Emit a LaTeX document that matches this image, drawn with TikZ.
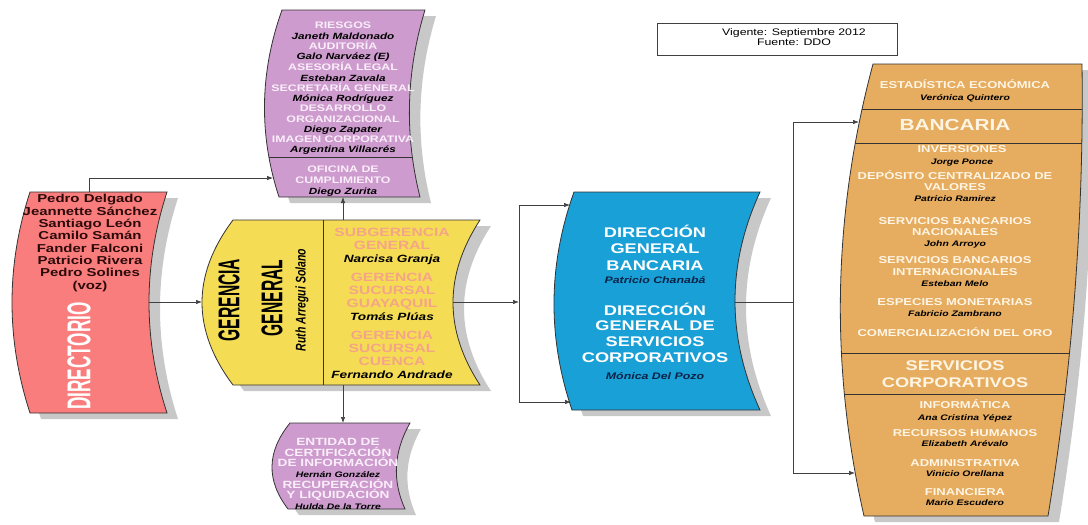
\documentclass[tikz,border=0pt]{standalone}
\usepackage{fontspec}
\setmainfont{Liberation Sans}[FakeStretch=1.3]
\newfontfamily\narrowfont{Liberation Sans}[FakeStretch=0.52]
\newfontfamily\semifont{Liberation Sans}[FakeStretch=0.75]
\usetikzlibrary{arrows.meta}

\definecolor{redbox}{RGB}{250,125,125}
\definecolor{purplebox}{RGB}{205,155,205}
\definecolor{yellowbox}{RGB}{245,220,85}
\definecolor{bluebox}{RGB}{25,160,215}
\definecolor{orangebox}{RGB}{230,172,95}
\definecolor{shadowgray}{RGB}{200,200,200}
\definecolor{salmontext}{RGB}{245,165,135}
\definecolor{navytext}{RGB}{10,35,70}
\definecolor{creamtext}{RGB}{255,245,228}
\definecolor{lilactext}{RGB}{250,238,250}
\definecolor{dirtext}{RGB}{45,10,10}

% bent box: #1,#2 top left/right x, #3 top y, #4,#5 bottom left/right x, #6 bottom y, #7,#8 bulge of left/right side
\newcommand{\bentbox}[8]{(#1,#3) -- (#2,#3)
  .. controls ({#2+((#5)-(#2))/3-1.333*(#8)},{#3+((#6)-(#3))/3}) and ({#2+2*((#5)-(#2))/3-1.333*(#8)},{#3+2*((#6)-(#3))/3}) .. (#5,#6)
  -- (#4,#6)
  .. controls ({#1+2*((#4)-(#1))/3-1.333*(#7)},{#3+2*((#6)-(#3))/3}) and ({#1+((#4)-(#1))/3-1.333*(#7)},{#3+((#6)-(#3))/3}) .. (#1,#3) -- cycle}
% name line: [colour]{size}{text}
\newcommand{\who}[3][black]{{\fontsize{#2}{#2}\selectfont\itshape\color{#1}#3}}

\begin{document}
\begin{tikzpicture}[x=1pt,y=-1pt,
  box/.style={draw=black!80,line width=0.8pt},
  dropshadow/.style={fill=shadowgray,shift={(11,6)}},
  txt/.style={align=center,inner sep=0pt},
  conn/.style={draw=black!75,line width=0.7pt,-{Latex[length=6pt,width=4.5pt]}},
  link/.style={draw=black!75,line width=0.7pt}]
\useasboundingbox (0,0) rectangle (1088,525);

% directorio
\fill[dropshadow] \bentbox{30}{167}{192}{30}{167}{413}{18}{18};
\draw[box,fill=redbox] \bentbox{30}{167}{192}{30}{167}{413}{18}{18};
\node[txt,font=\fontsize{11.5}{12.3}\selectfont\bfseries,text=dirtext] (dirNames) at (90,243)
  {Pedro Delgado\\Jeannette Sánchez\\Santiago León\\Camilo Samán\\Fander Falconi\\Patricio Rivera\\Pedro Solines\\(voz)};
\node[rotate=90,inner sep=0pt,font=\narrowfont\fontsize{33}{33}\selectfont\bfseries,text=white] (dirTitle) at (79,356) {DIRECTORIO};

% riesgos ... oficina de cumplimiento
\fill[dropshadow] \bentbox{282}{425}{10}{279}{420}{197}{16}{13};
\draw[box,fill=purplebox] \bentbox{282}{425}{10}{279}{420}{197}{16}{13};
\begin{scope}
\clip \bentbox{282}{425}{10}{279}{420}{197}{16}{13};
\draw[box] (240,157) -- (460,157);
\end{scope}
\node[txt,font=\fontsize{9.5}{10.25}\selectfont\bfseries,text=lilactext] (riesgosTxt) at (343,88.5)
  {RIESGOS\\\who{9}{Janeth Maldonado}\\AUDITORÍA\\\who{9}{Galo Narváez (E)}\\ASESORÍA LEGAL\\\who{9}{Esteban Zavala}\\SECRETARÍA GENERAL\\\who{9}{Mónica Rodríguez}\\DESARROLLO\\ORGANIZACIONAL\\\who{9}{Diego Zapater}\\IMAGEN CORPORATIVA\\\who{9}{Argentina Villacrés}};
\node[txt,font=\fontsize{9.5}{11}\selectfont\bfseries,text=lilactext] (oficinaTxt) at (343,181)
  {OFICINA DE\\CUMPLIMIENTO\\\who{9}{Diego Zurita}};

% gerencia general
\fill[dropshadow] \bentbox{233}{480}{220}{233}{480}{385}{31}{27};
\draw[box,fill=yellowbox] \bentbox{233}{480}{220}{233}{480}{385}{31}{27};
\draw[box] (323,220) -- (323,385);
\node[rotate=90,inner sep=0pt,font=\narrowfont\fontsize{30}{30}\selectfont\bfseries] (genTitleA) at (229,300) {GERENCIA};
\node[rotate=90,inner sep=0pt,font=\narrowfont\fontsize{30}{30}\selectfont\bfseries] (genTitleB) at (272,298) {GENERAL};
\node[rotate=90,inner sep=0pt,font=\semifont\fontsize{14}{14}\selectfont\bfseries\itshape] (genHead) at (302,300) {Ruth Arregui Solano};
\node[txt,font=\fontsize{12}{13}\selectfont\bfseries,text=salmontext] (genUnits) at (392,303)
  {SUBGERENCIA\\GENERAL\\\who{10.5}{Narcisa Granja}\\[6pt]GERENCIA\\SUCURSAL\\GUAYAQUIL\\\who{10.5}{Tomás Plúas}\\[6pt]GERENCIA\\SUCURSAL\\CUENCA\\\who{10.5}{Fernando Andrade}};

% entidad de certificacion
\fill[dropshadow] \bentbox{290}{410}{423}{288}{405}{509}{17}{11};
\draw[box,fill=purplebox] \bentbox{290}{410}{423}{288}{405}{509}{17}{11};
\node[txt,font=\fontsize{10.5}{10.7}\selectfont\bfseries,text=lilactext] (entidadTxt) at (338,474)
  {ENTIDAD DE\\CERTIFICACIÓN\\DE INFORMACIÓN\\\who{8}{Hernán González}\\RECUPERACIÓN\\Y LIQUIDACIÓN\\\who{8}{Hulda De la Torre}};

% direcciones generales
\fill[dropshadow] \bentbox{574}{760}{192}{572}{760}{410}{19}{25};
\draw[box,fill=bluebox] \bentbox{574}{760}{192}{572}{760}{410}{19}{25};
\node[txt,font=\fontsize{14}{16.5}\selectfont\bfseries,text=white] (dgBancaria) at (655,254)
  {DIRECCIÓN\\GENERAL\\BANCARIA\\[-3.5pt]\who[navytext]{9.5}{Patricio Chanabá}};
\node[txt,font=\fontsize{14}{15.7}\selectfont\bfseries,text=white] (dgServicios) at (655,341)
  {DIRECCIÓN\\GENERAL DE\\SERVICIOS\\CORPORATIVOS\\[1pt]\who[navytext]{9.5}{Mónica Del Pozo}};

% unidades bancarias y de servicios
\fill[dropshadow] \bentbox{873}{1082}{64}{864}{1048}{516}{28}{-10};
\draw[box,fill=orangebox] \bentbox{873}{1082}{64}{864}{1048}{516}{28}{-10};
\begin{scope}
\clip \bentbox{873}{1082}{64}{864}{1048}{516}{28}{-10};
\draw[box] (800,109) -- (1100,109);
\draw[box] (800,143) -- (1100,143);
\draw[box] (800,353) -- (1100,353);
\draw[box] (800,394) -- (1100,394);
\end{scope}
\node[txt,font=\fontsize{10}{12}\selectfont\bfseries,text=creamtext] (estadistica) at (965,91) {ESTADÍSTICA ECONÓMICA\\\who{8}{Verónica Quintero}};
\node[txt,font=\fontsize{16}{16}\selectfont\bfseries,text=creamtext] (bancaria) at (955,125) {BANCARIA};
\node[txt,font=\fontsize{10}{12}\selectfont\bfseries,text=creamtext] (inversiones) at (962,156) {INVERSIONES\\\who{8}{Jorge Ponce}};
\node[txt,font=\fontsize{10}{11}\selectfont\bfseries,text=creamtext] (deposito) at (955,186) {DEPÓSITO CENTRALIZADO DE\\VALORES\\\who{8}{Patricio Ramirez}};
\node[txt,font=\fontsize{10}{11}\selectfont\bfseries,text=creamtext] (servNac) at (955,233) {SERVICIOS BANCARIOS\\NACIONALES\\\who{8}{John Arroyo}};
\node[txt,font=\fontsize{10}{11.5}\selectfont\bfseries,text=creamtext] (servInt) at (955,272) {SERVICIOS BANCARIOS\\INTERNACIONALES\\\who{8}{Esteban Melo}};
\node[txt,font=\fontsize{10}{11}\selectfont\bfseries,text=creamtext] (especies) at (955,308) {ESPECIES MONETARIAS\\\who{8}{Fabricio Zambrano}};
\node[txt,font=\fontsize{10}{11}\selectfont\bfseries,text=creamtext] (comercial) at (955,332) {COMERCIALIZACIÓN DEL ORO};
\node[txt,font=\fontsize{14}{17}\selectfont\bfseries,text=creamtext] (servCorp) at (955,374) {SERVICIOS\\CORPORATIVOS};
\node[txt,font=\fontsize{10}{12}\selectfont\bfseries,text=creamtext] (informatica) at (965,411) {INFORMÁTICA\\\who{8}{Ana Cristina Yépez}};
\node[txt,font=\fontsize{10}{10.5}\selectfont\bfseries,text=creamtext] (rrhh) at (965,438) {RECURSOS HUMANOS\\\who{8}{Elizabeth Arévalo}};
\node[txt,font=\fontsize{10}{10.5}\selectfont\bfseries,text=creamtext] (administrativa) at (965,468) {ADMINISTRATIVA\\\who{8}{Vinicio Orellana}};
\node[txt,font=\fontsize{10}{10.5}\selectfont\bfseries,text=creamtext] (financiera) at (965,497) {FINANCIERA\\\who{8}{Mario Escudero}};

% vigencia
\draw[line width=0.9pt,draw=black!75] (657,23) rectangle (897,55);
\node[txt,font=\fontsize{9.5}{8.5}\selectfont] (vigente) at (794,37) {Vigente: Septiembre 2012\\Fuente: DDO};

% connectors
\coordinate (dirTop) at (89,192);
\coordinate (dirRight) at (149,302);
\coordinate (riesgosLeft) at (273,178);
\coordinate (riesgosBot) at (343,197);
\coordinate (genLeft) at (202,302);
\coordinate (genTop) at (343,220);
\coordinate (genBot) at (343,385);
\coordinate (genRight) at (453,302);
\coordinate (entidadTop) at (343,423);
\coordinate (forkA) at (519,302);
\coordinate (blueTopIn) at (570,205);
\coordinate (blueBotIn) at (571,402);
\coordinate (blueRight) at (735,302);
\coordinate (forkB) at (793,302);
\coordinate (orangeTopIn) at (859,122);
\coordinate (orangeBotIn) at (855,473);

\draw[conn] (dirTop) |- (riesgosLeft);
\draw[conn] (dirRight) -- (genLeft);
\draw[conn] (genTop) -- (riesgosBot);
\draw[conn] (genBot) -- (entidadTop);
\draw[conn] (genRight) -- (forkA);
\draw[conn] (forkA) |- (blueTopIn);
\draw[conn] (forkA) |- (blueBotIn);
\draw[link] (blueRight) -- (forkB);
\draw[conn] (forkB) |- (orangeTopIn);
\draw[conn] (forkB) |- (orangeBotIn);

\end{tikzpicture}
\end{document}
